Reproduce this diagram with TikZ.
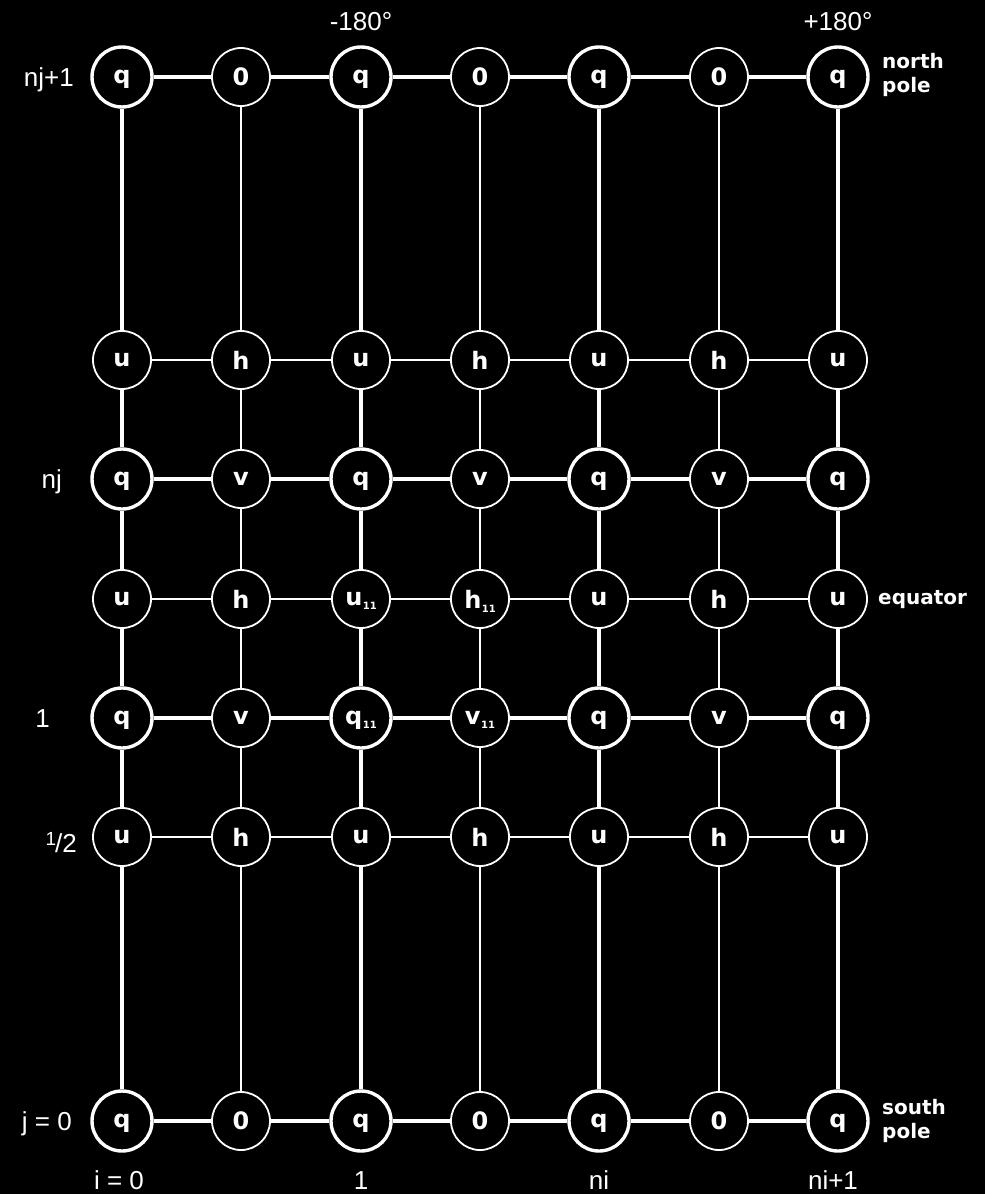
\documentclass[tikz,border=0pt]{standalone}
\usepackage{fontspec}
\setmainfont{Liberation Sans}
\newfontfamily\wideb{DejaVu Sans}
\begin{document}
\begin{tikzpicture}[x=1pt,y=-1pt,
  cell/.style={circle,draw=white,fill=black,text=white,inner sep=0pt,
    minimum size=58pt,line width=1.8pt,text depth=0pt,
    font=\wideb\fontsize{24}{24}\selectfont\bfseries},
  qcell/.style={cell,minimum size=60pt,line width=3.4pt},
  thin/.style={draw=white,line width=1.7pt},
  thick/.style={draw=white,line width=3.4pt},
  lab/.style={text=white,font=\fontsize{26}{26}\selectfont,inner sep=0pt,text height=18.6pt,text depth=0pt},
  blab/.style={text=white,font=\wideb\fontsize{20}{24}\selectfont\bfseries,inner sep=0pt,align=left,anchor=west}]
\fill[black] (0,0) rectangle (985,1194);
\useasboundingbox (0,0) rectangle (985,1194);
\def\sub#1#2{#1\raisebox{-4pt}{\fontsize{10}{10}\selectfont\kern0.5pt #2}}
% columns
\def\xa{122}\def\xb{241}\def\xc{361}\def\xd{480}\def\xe{599}\def\xf{719}\def\xg{838}
% rows
\def\ya{77}\def\yb{360}\def\yc{479}\def\yd{599}\def\ye{718}\def\yf{837}\def\yg{1121}
% row a (north pole)
\node[qcell] (a1) at (\xa,\ya) {q};
\node[cell]  (a2) at (\xb,\ya) {0};
\node[qcell] (a3) at (\xc,\ya) {q};
\node[cell]  (a4) at (\xd,\ya) {0};
\node[qcell] (a5) at (\xe,\ya) {q};
\node[cell]  (a6) at (\xf,\ya) {0};
\node[qcell] (a7) at (\xg,\ya) {q};
% row b
\node[cell] (b1) at (\xa,\yb) {u};
\node[cell] (b2) at (\xb,\yb) {h};
\node[cell] (b3) at (\xc,\yb) {u};
\node[cell] (b4) at (\xd,\yb) {h};
\node[cell] (b5) at (\xe,\yb) {u};
\node[cell] (b6) at (\xf,\yb) {h};
\node[cell] (b7) at (\xg,\yb) {u};
% row c (nj)
\node[qcell] (c1) at (\xa,\yc) {q};
\node[cell]  (c2) at (\xb,\yc) {v};
\node[qcell] (c3) at (\xc,\yc) {q};
\node[cell]  (c4) at (\xd,\yc) {v};
\node[qcell] (c5) at (\xe,\yc) {q};
\node[cell]  (c6) at (\xf,\yc) {v};
\node[qcell] (c7) at (\xg,\yc) {q};
% row d (equator)
\node[cell] (d1) at (\xa,\yd) {u};
\node[cell] (d2) at (\xb,\yd) {h};
\node[cell] (d3) at (\xc,\yd) {\sub{u}{11}};
\node[cell] (d4) at (\xd,\yd) {\sub{h}{11}};
\node[cell] (d5) at (\xe,\yd) {u};
\node[cell] (d6) at (\xf,\yd) {h};
\node[cell] (d7) at (\xg,\yd) {u};
% row e (1)
\node[qcell] (e1) at (\xa,\ye) {q};
\node[cell]  (e2) at (\xb,\ye) {v};
\node[qcell] (e3) at (\xc,\ye) {\sub{q}{11}};
\node[cell]  (e4) at (\xd,\ye) {\sub{v}{11}};
\node[qcell] (e5) at (\xe,\ye) {q};
\node[cell]  (e6) at (\xf,\ye) {v};
\node[qcell] (e7) at (\xg,\ye) {q};
% row f (1/2)
\node[cell] (f1) at (\xa,\yf) {u};
\node[cell] (f2) at (\xb,\yf) {h};
\node[cell] (f3) at (\xc,\yf) {u};
\node[cell] (f4) at (\xd,\yf) {h};
\node[cell] (f5) at (\xe,\yf) {u};
\node[cell] (f6) at (\xf,\yf) {h};
\node[cell] (f7) at (\xg,\yf) {u};
% row g (south pole)
\node[qcell] (g1) at (\xa,\yg) {q};
\node[cell]  (g2) at (\xb,\yg) {0};
\node[qcell] (g3) at (\xc,\yg) {q};
\node[cell]  (g4) at (\xd,\yg) {0};
\node[qcell] (g5) at (\xe,\yg) {q};
\node[cell]  (g6) at (\xf,\yg) {0};
\node[qcell] (g7) at (\xg,\yg) {q};
% horizontal connectors
\foreach \r/\s in {a/thick,b/thin,c/thick,d/thin,e/thick,f/thin,g/thick}{
  \foreach \i [evaluate=\i as \j using int(\i+1)] in {1,...,6}{
    \draw[\s] (\r\i) -- (\r\j);
  }
}
% vertical connectors
\foreach \c/\s in {1/thick,2/thin,3/thick,4/thin,5/thick,6/thin,7/thick}{
  \foreach \r/\t in {a/b,b/c,c/d,d/e,e/f,f/g}{
    \draw[\s] (\r\c) -- (\t\c);
  }
}
% labels
\node[lab,anchor=east] (lnj1) at (74,\ya) {nj+1};
\node[lab,anchor=east] (lnj) at (62,\yc) {nj};
\node[lab,anchor=east] (l1) at (50,\ye) {1};
\node[lab,anchor=east,text height=22pt] (lhalf) at (77,\yf+4) {\raisebox{7pt}{\fontsize{19}{19}\selectfont 1}\hspace{-1pt}/2};
\node[lab,anchor=east] (lj0) at (72,\yg) {j = 0};
\node[lab] (li0) at (119,1180) {i = 0};
\node[lab] (li1) at (\xc,1180) {1};
\node[lab] (lni) at (\xe,1180) {ni};
\node[lab] (lni1) at (833,1180) {ni+1};
\node[lab] (lm180) at (\xc,21) {-180°};
\node[lab] (lp180) at (\xg,21) {+180°};
\node[blab] (lnp) at (882,\ya-2) {north\\pole};
\node[blab] (leq) at (878,\yd+1) {equator};
\node[blab] (lsp) at (882,\yg) {south\\pole};
\end{tikzpicture}
\end{document}
